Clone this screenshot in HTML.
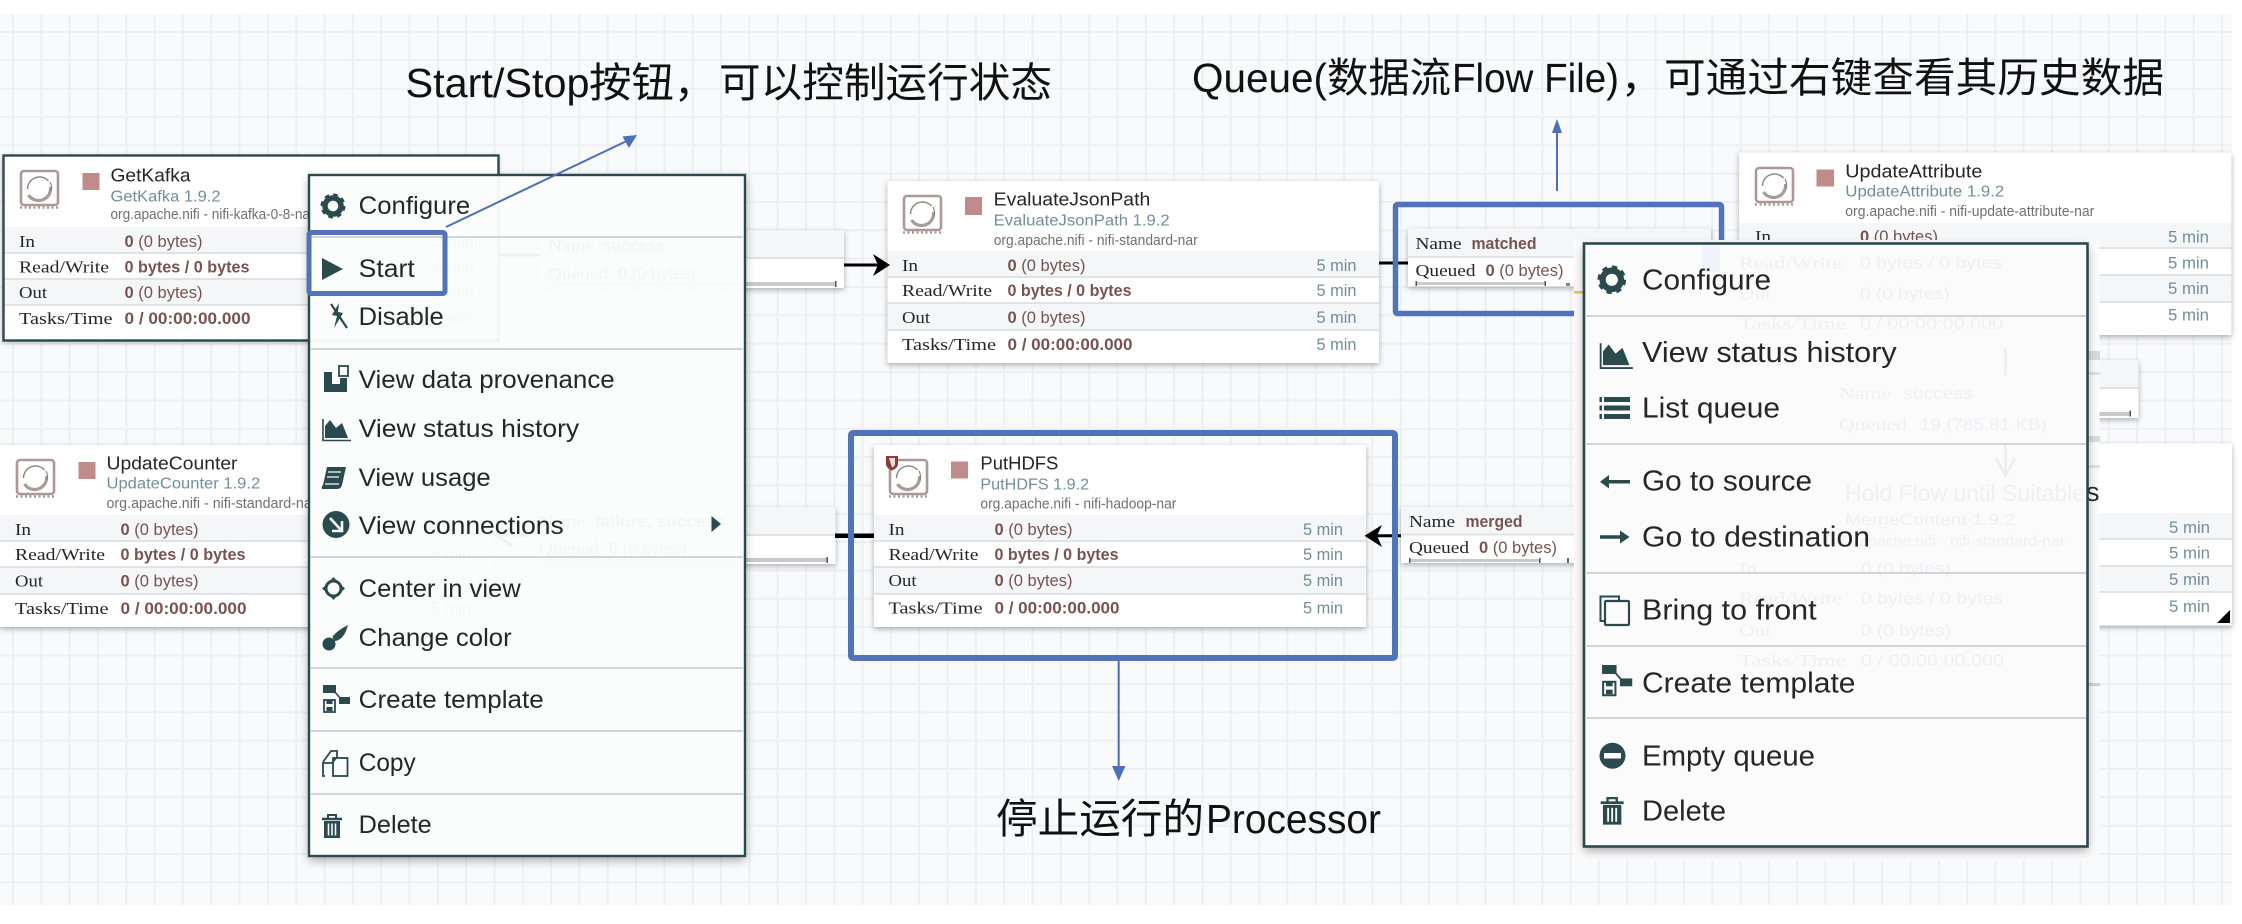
<!DOCTYPE html>
<html><head><meta charset="utf-8">
<style>
html,body{margin:0;padding:0;background:#fff;width:2242px;height:924px;overflow:hidden}
svg{display:block}
text{font-family:"Liberation Sans","Noto Sans CJK SC",sans-serif;white-space:pre}
.big{font-size:41px;fill:#111}
.n{font-size:18px;fill:#262626}
.s{font-size:15.5px;fill:#728e9b}
.o{font-size:14.5px;fill:#707070}
.l{font-family:"Liberation Serif",serif;font-size:17px;fill:#262626}
.v{font-size:16.5px;fill:#775351}
.b{font-weight:bold}
.t{font-size:16.5px;fill:#728e9b}
.m1{font-size:25px;fill:#262626}
.m2{font-size:29px;fill:#262626}
.f{fill:#eff0f2}
.card{fill:#fff;filter:drop-shadow(0 2px 3px rgba(0,0,0,.3))}
.alt{fill:#f4f6f7}
.sep{fill:#dfe3e6}
.stop{fill:#c08c8a}
.bar{fill:#c9c9c9}
.div{fill:#cfd6da}
.ic{fill:#2a4a4e}
</style></head>
<body>
<svg width="2242" height="924" viewBox="0 0 2242 924" xmlns="http://www.w3.org/2000/svg">
<defs>
<clipPath id="outm1"><path clip-rule="evenodd" d="M0 0H2242V924H0Z M309 175H745V856H309Z"/></clipPath>
<clipPath id="outm2"><path clip-rule="evenodd" d="M0 0H2242V924H0Z M1584 243.500H2087.500V846.500H1584Z"/></clipPath>
<pattern id="grid" patternUnits="userSpaceOnUse" x="12" y="2.5" width="28.32" height="28.35">
<rect width="28.32" height="28.35" fill="#f9fafc"/>
<rect width="2" height="28.35" fill="#edf0f2"/>
<rect width="28.32" height="2" fill="#edf0f2"/>
</pattern>
<g id="pi">
<rect x="2" y="2" width="37" height="34" rx="3" fill="#fff" stroke="#ad9897" stroke-width="2.6"/>
<path d="M1 38.5H40" stroke="#ad9897" stroke-width="2.5" stroke-dasharray="2 2.5" fill="none"/>
<path d="M8.5 20a12 12 0 0 1 21-8" stroke="#8a8180" stroke-width="1.4" fill="none"/>
<path d="M31.5 18a12 12 0 0 1-22 8" stroke="#a89b9a" stroke-width="3.2" fill="none"/>
<path d="M31 13a12 12 0 0 1 1 9" stroke="#8a8180" stroke-width="1.2" fill="none"/>
</g>
<g id="gear">
<circle cx="12" cy="12" r="8" fill="none" stroke="#2a4a4e" stroke-width="5.4"/>
<circle cx="12" cy="12" r="11" fill="none" stroke="#2a4a4e" stroke-width="3" stroke-dasharray="4.6 4"/>
</g>
<g id="status">
<path d="M3 21 L3 9 L8 3 L14 11 L20 6 L26 21Z" fill="#2a4a4e"/>
<path d="M1 2V23.5H29" stroke="#2a4a4e" stroke-width="1.6" fill="none"/>
</g>
<g id="templ">
<rect x="0" y="0" width="13" height="8" fill="#2a4a4e"/>
<rect x="16" y="12" width="11" height="7" fill="#2a4a4e"/>
<path d="M11 6 L18 14" stroke="#2a4a4e" stroke-width="1.6"/>
<rect x="1" y="15" width="11" height="12" fill="none" stroke="#2a4a4e" stroke-width="1.8"/>
<rect x="3.5" y="15" width="6" height="4" fill="#2a4a4e"/>
<rect x="3.5" y="22" width="6" height="4" fill="#2a4a4e"/>
</g>
<g id="trash">
<path d="M1 5H21" stroke="#2a4a4e" stroke-width="2.4"/>
<path d="M7 4.5V1H15V4.5" stroke="#2a4a4e" stroke-width="2" fill="none"/>
<path d="M3 7H19V24H3Z" fill="#2a4a4e"/>
<path d="M7.5 9.5V21.5M11 9.5V21.5M14.500 9.5V21.5" stroke="#fafbfc" stroke-width="1.6"/>
</g>
</defs>

<rect x="0" y="14" width="2232" height="891" fill="url(#grid)"/>

<!-- GetKafka -->
<rect class="card" x="3" y="155" width="495" height="185"/>
<rect class="alt" x="4" y="227" width="493" height="26"/>
<rect class="alt" x="4" y="279" width="493" height="26"/>
<rect class="sep" x="4" y="252" width="493" height="2"/><rect class="sep" x="4" y="278" width="493" height="2"/><rect class="sep" x="4" y="304" width="493" height="2"/>
<rect x="3.500" y="155.500" width="495" height="185" fill="none" stroke="#2a4a4e" stroke-width="2.4"/>
<use href="#pi" x="19" y="169"/>
<rect class="stop" x="82.500" y="173" width="17" height="17"/>
<text class="n" x="110.500" y="181.500" textLength="80" lengthAdjust="spacingAndGlyphs">GetKafka</text>
<text class="s" x="110.500" y="201.500" textLength="110" lengthAdjust="spacingAndGlyphs">GetKafka 1.9.2</text>
<text class="o" x="110.500" y="219" textLength="204" lengthAdjust="spacingAndGlyphs">org.apache.nifi - nifi-kafka-0-8-nar</text>
<text class="l" x="19" y="247" textLength="16" lengthAdjust="spacingAndGlyphs">In</text>
<text class="v" x="124.500" y="247"><tspan class="b">0</tspan> (0 bytes)</text>
<text class="l" x="19" y="272.500" textLength="90" lengthAdjust="spacingAndGlyphs">Read/Write</text>
<text class="v b" x="124.500" y="272.500" textLength="125" lengthAdjust="spacingAndGlyphs">0 bytes / 0 bytes</text>
<text class="l" x="19" y="298" textLength="28" lengthAdjust="spacingAndGlyphs">Out</text>
<text class="v" x="124.500" y="298"><tspan class="b">0</tspan> (0 bytes)</text>
<text class="l" x="19" y="324" textLength="93.500" lengthAdjust="spacingAndGlyphs">Tasks/Time</text>
<text class="v b" x="124.500" y="324" textLength="126" lengthAdjust="spacingAndGlyphs">0 / 00:00:00.000</text>
<text class="t" x="434" y="247" textLength="40" lengthAdjust="spacingAndGlyphs">5 min</text>
<text class="t" x="434" y="272.500" textLength="40" lengthAdjust="spacingAndGlyphs">5 min</text>
<text class="t" x="434" y="298" textLength="40" lengthAdjust="spacingAndGlyphs">5 min</text>
<text class="t" x="434" y="324" textLength="40" lengthAdjust="spacingAndGlyphs">5 min</text>

<!-- UpdateCounter -->
<rect class="card" x="0" y="445" width="494" height="182"/>
<rect class="alt" x="0" y="515" width="494" height="26"/>
<rect class="alt" x="0" y="567" width="494" height="27"/>
<rect class="sep" x="0" y="540" width="494" height="2"/><rect class="sep" x="0" y="566" width="494" height="2"/><rect class="sep" x="0" y="593" width="494" height="2"/>
<use href="#pi" x="15" y="458"/>
<rect class="stop" x="78.500" y="462" width="17" height="17"/>
<text class="n" x="106.500" y="469.500" textLength="131" lengthAdjust="spacingAndGlyphs">UpdateCounter</text>
<text class="s" x="106.500" y="488.500" textLength="153.700" lengthAdjust="spacingAndGlyphs">UpdateCounter 1.9.2</text>
<text class="o" x="106.500" y="508" textLength="210" lengthAdjust="spacingAndGlyphs">org.apache.nifi - nifi-standard-nar</text>
<text class="l" x="15" y="535" textLength="16" lengthAdjust="spacingAndGlyphs">In</text>
<text class="v" x="120.500" y="535"><tspan class="b">0</tspan> (0 bytes)</text>
<text class="l" x="15" y="560" textLength="90" lengthAdjust="spacingAndGlyphs">Read/Write</text>
<text class="v b" x="120.500" y="560" textLength="125" lengthAdjust="spacingAndGlyphs">0 bytes / 0 bytes</text>
<text class="l" x="15" y="586.500" textLength="28" lengthAdjust="spacingAndGlyphs">Out</text>
<text class="v" x="120.500" y="586.500"><tspan class="b">0</tspan> (0 bytes)</text>
<text class="l" x="15" y="614" textLength="93.500" lengthAdjust="spacingAndGlyphs">Tasks/Time</text>
<text class="v b" x="120.500" y="614" textLength="126" lengthAdjust="spacingAndGlyphs">0 / 00:00:00.000</text>
<text class="t" x="431" y="535" textLength="40" lengthAdjust="spacingAndGlyphs">5 min</text>
<text class="t" x="431" y="560" textLength="40" lengthAdjust="spacingAndGlyphs">5 min</text>
<text class="t" x="431" y="586.500" textLength="40" lengthAdjust="spacingAndGlyphs">5 min</text>
<text class="t" x="431" y="614" textLength="40" lengthAdjust="spacingAndGlyphs">5 min</text>

<!-- faint connectors under menu 1 -->
<path d="M498 255H540" stroke="#000" stroke-width="3"/>
<path d="M494 535H528" stroke="#000" stroke-width="3"/>
<path d="M496 535L512 527M496 535L512 546" stroke="#000" stroke-width="3"/>

<!-- queue 1 (left) -->
<rect class="card" x="540" y="230" width="304" height="58"/>
<rect class="alt" x="540" y="230" width="304" height="28"/>
<rect class="sep" x="540" y="257" width="304" height="2"/>
<text class="l" x="548" y="251" textLength="46" lengthAdjust="spacingAndGlyphs">Name</text>
<text class="v b" x="603" y="251" textLength="62" lengthAdjust="spacingAndGlyphs">success</text>
<text class="l" x="548" y="279" textLength="60" lengthAdjust="spacingAndGlyphs">Queued</text>
<text class="v" x="618" y="279"><tspan class="b">0</tspan> (0 bytes)</text>
<rect class="bar" x="548" y="282" width="288" height="4"/>
<rect x="835" y="281" width="1.500" height="6" fill="#555"/>

<!-- queue 4 (left, failure) -->
<rect class="card" x="530" y="507" width="305.500" height="57"/>
<rect class="alt" x="530" y="507" width="305.500" height="28"/>
<rect class="sep" x="530" y="534" width="305.500" height="2"/>
<text class="l" x="539" y="527" textLength="46" lengthAdjust="spacingAndGlyphs">Name</text>
<text class="v b" x="595" y="527" textLength="130" lengthAdjust="spacingAndGlyphs">failure, success</text>
<text class="l" x="539" y="554" textLength="60" lengthAdjust="spacingAndGlyphs">Queued</text>
<text class="v" x="609" y="554"><tspan class="b">0</tspan> (0 bytes)</text>
<rect class="bar" x="539" y="558" width="288" height="4"/>
<rect x="826.500" y="557" width="1.500" height="6" fill="#555"/>

<!-- EvaluateJsonPath -->
<rect class="card" x="887.500" y="181" width="491.500" height="182"/>
<rect class="alt" x="887.500" y="251" width="491.500" height="26"/>
<rect class="alt" x="887.500" y="303" width="491.500" height="27"/>
<rect class="sep" x="887.500" y="276" width="491.500" height="2"/><rect class="sep" x="887.500" y="302" width="491.500" height="2"/><rect class="sep" x="887.500" y="329" width="491.500" height="2"/>
<use href="#pi" x="902" y="194"/>
<rect class="stop" x="965" y="197" width="17" height="18"/>
<text class="n" x="993.700" y="205.500" textLength="156.600" lengthAdjust="spacingAndGlyphs">EvaluateJsonPath</text>
<text class="s" x="993.700" y="225.500" textLength="176" lengthAdjust="spacingAndGlyphs">EvaluateJsonPath 1.9.2</text>
<text class="o" x="993.700" y="245" textLength="204" lengthAdjust="spacingAndGlyphs">org.apache.nifi - nifi-standard-nar</text>
<text class="l" x="902" y="271" textLength="16" lengthAdjust="spacingAndGlyphs">In</text>
<text class="v" x="1007.500" y="271"><tspan class="b">0</tspan> (0 bytes)</text>
<text class="l" x="902" y="296" textLength="90" lengthAdjust="spacingAndGlyphs">Read/Write</text>
<text class="v b" x="1007.500" y="296" textLength="124" lengthAdjust="spacingAndGlyphs">0 bytes / 0 bytes</text>
<text class="l" x="902" y="323" textLength="28" lengthAdjust="spacingAndGlyphs">Out</text>
<text class="v" x="1007.500" y="323"><tspan class="b">0</tspan> (0 bytes)</text>
<text class="l" x="902" y="350" textLength="94" lengthAdjust="spacingAndGlyphs">Tasks/Time</text>
<text class="v b" x="1007.500" y="350" textLength="125" lengthAdjust="spacingAndGlyphs">0 / 00:00:00.000</text>
<text class="t" x="1316.500" y="271" textLength="40" lengthAdjust="spacingAndGlyphs">5 min</text>
<text class="t" x="1316.500" y="296" textLength="40" lengthAdjust="spacingAndGlyphs">5 min</text>
<text class="t" x="1316.500" y="323" textLength="40" lengthAdjust="spacingAndGlyphs">5 min</text>
<text class="t" x="1316.500" y="350" textLength="40" lengthAdjust="spacingAndGlyphs">5 min</text>

<!-- PutHDFS -->
<rect class="card" x="874" y="445" width="492" height="182"/>
<rect class="alt" x="874" y="515" width="492" height="26"/>
<rect class="alt" x="874" y="567" width="492" height="27"/>
<rect class="sep" x="874" y="540" width="492" height="2"/><rect class="sep" x="874" y="566" width="492" height="2"/><rect class="sep" x="874" y="593" width="492" height="2"/>
<use href="#pi" x="888" y="458"/>
<path d="M886 456H898V464Q898 468 892 470.500Q886 468 886 464Z" fill="#8c3b3b"/>
<path d="M889 458H895V464Q895 466 892 467.500Z" fill="#e8dede"/>
<rect class="stop" x="951" y="461.500" width="17" height="17"/>
<text class="n" x="980.400" y="469.500" textLength="78" lengthAdjust="spacingAndGlyphs">PutHDFS</text>
<text class="s" x="980.400" y="489.500" textLength="108.700" lengthAdjust="spacingAndGlyphs">PutHDFS 1.9.2</text>
<text class="o" x="980.400" y="508.500" textLength="196" lengthAdjust="spacingAndGlyphs">org.apache.nifi - nifi-hadoop-nar</text>
<text class="l" x="888.500" y="535" textLength="16" lengthAdjust="spacingAndGlyphs">In</text>
<text class="v" x="994.500" y="535"><tspan class="b">0</tspan> (0 bytes)</text>
<text class="l" x="888.500" y="560" textLength="90" lengthAdjust="spacingAndGlyphs">Read/Write</text>
<text class="v b" x="994.500" y="560" textLength="124" lengthAdjust="spacingAndGlyphs">0 bytes / 0 bytes</text>
<text class="l" x="888.500" y="586" textLength="28" lengthAdjust="spacingAndGlyphs">Out</text>
<text class="v" x="994.500" y="586"><tspan class="b">0</tspan> (0 bytes)</text>
<text class="l" x="888.500" y="613.500" textLength="94" lengthAdjust="spacingAndGlyphs">Tasks/Time</text>
<text class="v b" x="994.500" y="613.500" textLength="125" lengthAdjust="spacingAndGlyphs">0 / 00:00:00.000</text>
<text class="t" x="1303" y="535" textLength="40" lengthAdjust="spacingAndGlyphs">5 min</text>
<text class="t" x="1303" y="560" textLength="40" lengthAdjust="spacingAndGlyphs">5 min</text>
<text class="t" x="1303" y="586" textLength="40" lengthAdjust="spacingAndGlyphs">5 min</text>
<text class="t" x="1303" y="613.500" textLength="40" lengthAdjust="spacingAndGlyphs">5 min</text>

<!-- UpdateAttribute -->
<rect class="card" x="1739" y="152.500" width="492.500" height="182.500"/>
<rect class="alt" x="1739" y="223" width="492.500" height="25"/>
<rect class="alt" x="1739" y="275" width="492.500" height="27"/>
<rect class="sep" x="1739" y="247" width="492.500" height="2"/><rect class="sep" x="1739" y="274" width="492.500" height="2"/><rect class="sep" x="1739" y="301" width="492.500" height="2"/>
<use href="#pi" x="1754" y="166"/>
<rect class="stop" x="1816.500" y="169.500" width="17.500" height="17"/>
<text class="n" x="1845.300" y="177.500" textLength="137" lengthAdjust="spacingAndGlyphs">UpdateAttribute</text>
<text class="s" x="1845.300" y="196.500" textLength="159" lengthAdjust="spacingAndGlyphs">UpdateAttribute 1.9.2</text>
<text class="o" x="1845.300" y="216" textLength="249" lengthAdjust="spacingAndGlyphs">org.apache.nifi - nifi-update-attribute-nar</text>
<text class="l" x="1755" y="242" textLength="16" lengthAdjust="spacingAndGlyphs">In</text>
<text class="v" x="1860" y="242"><tspan class="b">0</tspan> (0 bytes)</text>
<text class="t" x="2168" y="242.500" textLength="41" lengthAdjust="spacingAndGlyphs">5 min</text>
<text class="t" x="2168" y="268.500" textLength="41" lengthAdjust="spacingAndGlyphs">5 min</text>
<text class="t" x="2168" y="294" textLength="41" lengthAdjust="spacingAndGlyphs">5 min</text>
<text class="t" x="2168" y="320.500" textLength="41" lengthAdjust="spacingAndGlyphs">5 min</text>

<!-- queue right of paste (success) -->
<rect class="card" x="1830" y="360" width="308.500" height="58"/>
<rect class="alt" x="1830" y="360" width="308.500" height="28"/>
<rect class="sep" x="1830" y="387" width="308.500" height="2"/>
<rect class="bar" x="1840" y="412" width="290" height="4"/>
<rect x="2129.500" y="410.500" width="1.500" height="6" fill="#555"/>

<!-- MergeContent card -->
<rect class="card" x="1740" y="443.500" width="492" height="182"/>
<rect class="alt" x="1740" y="513" width="492" height="26"/>
<rect class="alt" x="1740" y="566" width="492" height="26"/>
<rect class="sep" x="1740" y="538" width="492" height="2"/><rect class="sep" x="1740" y="565" width="492" height="2"/><rect class="sep" x="1740" y="591" width="492" height="2"/>
<text class="t" x="2169" y="533" textLength="41" lengthAdjust="spacingAndGlyphs">5 min</text>
<text class="t" x="2169" y="558.500" textLength="41" lengthAdjust="spacingAndGlyphs">5 min</text>
<text class="t" x="2169" y="585" textLength="41" lengthAdjust="spacingAndGlyphs">5 min</text>
<text class="t" x="2169" y="612" textLength="41" lengthAdjust="spacingAndGlyphs">5 min</text>
<path d="M2230 610V623H2217Z" fill="#000"/>

<!-- queue matched -->
<rect class="card" x="1408" y="228.500" width="303" height="58"/>
<rect class="alt" x="1408" y="228.500" width="303" height="28"/>
<rect class="sep" x="1408" y="256" width="303" height="2"/>
<text class="l" x="1415.500" y="249" textLength="46" lengthAdjust="spacingAndGlyphs">Name</text>
<text class="v b" x="1471.500" y="249" textLength="65" lengthAdjust="spacingAndGlyphs">matched</text>
<text class="l" x="1415.500" y="276" textLength="60" lengthAdjust="spacingAndGlyphs">Queued</text>
<text class="v" x="1485.500" y="276"><tspan class="b">0</tspan> (0 bytes)</text>
<rect class="bar" x="1416" y="282" width="129" height="3"/>
<rect x="1415.500" y="281" width="1.500" height="5" fill="#555"/><rect x="1544.500" y="281" width="1.500" height="5" fill="#555"/>
<rect x="1566" y="283" width="4" height="3" fill="#888"/>

<!-- queue merged -->
<rect class="card" x="1401" y="507" width="300" height="56"/>
<rect class="alt" x="1401" y="507" width="300" height="27"/>
<rect class="sep" x="1401" y="533.500" width="300" height="2"/>
<text class="l" x="1409" y="527" textLength="46" lengthAdjust="spacingAndGlyphs">Name</text>
<text class="v b" x="1465.500" y="527" textLength="57" lengthAdjust="spacingAndGlyphs">merged</text>
<text class="l" x="1409" y="553" textLength="60" lengthAdjust="spacingAndGlyphs">Queued</text>
<text class="v" x="1479" y="553"><tspan class="b">0</tspan> (0 bytes)</text>
<rect class="bar" x="1409" y="559" width="130" height="3"/>
<rect x="1409" y="558" width="1.500" height="5" fill="#555"/><rect x="1539" y="558" width="1.500" height="5" fill="#555"/>
<rect x="1567" y="558" width="2" height="5" fill="#666"/>

<!-- black connectors -->
<path d="M844 265H884" stroke="#000" stroke-width="3"/>
<path d="M873 254L890 265L873 276L878 265Z" fill="#000"/>
<path d="M1379 263H1408" stroke="#000" stroke-width="3"/>
<path d="M835 535.700H874" stroke="#000" stroke-width="4.500"/>
<path d="M1401 535.700H1370" stroke="#000" stroke-width="3"/>
<path d="M1382 525L1364.500 535.700L1382 547L1377 535.700Z" fill="#000"/>

<!-- blue annotation boxes under paste -->
<rect x="851" y="433" width="544" height="225" rx="2" fill="none" stroke="#5273b9" stroke-width="6"/>
<rect x="1395.500" y="204.500" width="326" height="109" rx="2" fill="none" stroke="#5273b9" stroke-width="5.500"/>

<!-- paste region of menu 2 -->
<rect x="1574" y="240" width="525.500" height="620" fill="#fbfbfc"/>
<rect x="1574" y="291" width="9" height="2.500" fill="#e8c45a"/>
<rect x="2088" y="351" width="12" height="9" fill="#d8dcdf"/>
<rect x="2088" y="372" width="12" height="3" fill="#dfe3e6"/>
<rect x="2088" y="436" width="12" height="6" fill="#d8dcdf"/>
<rect x="2088" y="465" width="12" height="3" fill="#dfe3e6"/>
<rect x="2088" y="683" width="12" height="3" fill="#cfd3d6"/>
<text x="2086" y="501" font-size="27" fill="#2c2c2c">s</text>

<!-- faint content within paste -->
<rect x="1702" y="244" width="18" height="28" fill="#f1f3fb"/>
<path d="M2005.500 348V375M2005.500 445V476M1996 458L2005.500 476L2015 458" stroke="#eceef0" stroke-width="2.500" fill="none"/>
<text class="l f" x="1739" y="268.500" textLength="103" lengthAdjust="spacingAndGlyphs">Read/Write</text>
<text class="v f" x="1860" y="268.500" textLength="142" lengthAdjust="spacingAndGlyphs">0 bytes / 0 bytes</text>
<text class="l f" x="1739" y="299" textLength="32" lengthAdjust="spacingAndGlyphs">Out</text>
<text class="v f" x="1860" y="299" textLength="90" lengthAdjust="spacingAndGlyphs">0 (0 bytes)</text>
<text class="l f" x="1739" y="329" textLength="107" lengthAdjust="spacingAndGlyphs">Tasks/Time</text>
<text class="v f" x="1860" y="329" textLength="143" lengthAdjust="spacingAndGlyphs">0 / 00:00:00.000</text>
<text class="l f" x="1839" y="399" textLength="52" lengthAdjust="spacingAndGlyphs">Name</text>
<text class="v f" x="1903" y="399" textLength="70" lengthAdjust="spacingAndGlyphs">success</text>
<text class="l f" x="1839" y="430" textLength="68" lengthAdjust="spacingAndGlyphs">Queued</text>
<text class="v f" x="1920" y="430" textLength="127" lengthAdjust="spacingAndGlyphs">19 (785.81 KB)</text>
<text class="n f" x="1845" y="501" textLength="240" lengthAdjust="spacingAndGlyphs" style="font-size:23px">Hold Flow until Suitable</text>
<text class="s f" x="1845" y="525" textLength="170" lengthAdjust="spacingAndGlyphs">MergeContent 1.9.2</text>
<text class="o f" x="1855" y="546" textLength="210" lengthAdjust="spacingAndGlyphs">.apache.nifi - nifi-standard-nar</text>
<text class="l f" x="1739" y="574" textLength="18" lengthAdjust="spacingAndGlyphs">In</text>
<text class="v f" x="1861" y="574" textLength="90" lengthAdjust="spacingAndGlyphs">0 (0 bytes)</text>
<text class="l f" x="1739" y="604" textLength="103" lengthAdjust="spacingAndGlyphs">Read/Write</text>
<text class="v f" x="1861" y="604" textLength="142" lengthAdjust="spacingAndGlyphs">0 bytes / 0 bytes</text>
<text class="l f" x="1739" y="636" textLength="32" lengthAdjust="spacingAndGlyphs">Out</text>
<text class="v f" x="1861" y="636" textLength="90" lengthAdjust="spacingAndGlyphs">0 (0 bytes)</text>
<text class="l f" x="1739" y="666" textLength="107" lengthAdjust="spacingAndGlyphs">Tasks/Time</text>
<text class="v f" x="1861" y="666" textLength="143" lengthAdjust="spacingAndGlyphs">0 / 00:00:00.000</text>

<!-- MENU 1 -->
<g clip-path="url(#outm1)"><rect x="309" y="175" width="436" height="681" fill="#000" style="filter:drop-shadow(0 4px 5px rgba(0,0,0,.35))"/></g>
<rect x="309" y="175" width="436" height="681" fill="rgba(251,252,252,.96)" stroke="#2a4a4e" stroke-width="2.400"/>
<rect class="div" x="310" y="236" width="434" height="2"/>
<rect class="div" x="310" y="348" width="434" height="2"/>
<rect class="div" x="310" y="556" width="434" height="2"/>
<rect class="div" x="310" y="667" width="434" height="2"/>
<rect class="div" x="310" y="730" width="434" height="2"/>
<rect class="div" x="310" y="793" width="434" height="2"/>
<text class="m1" x="358.700" y="214" textLength="111.500" lengthAdjust="spacingAndGlyphs">Configure</text>
<text class="m1" x="358.700" y="277" textLength="56" lengthAdjust="spacingAndGlyphs">Start</text>
<text class="m1" x="358.700" y="325" textLength="85" lengthAdjust="spacingAndGlyphs">Disable</text>
<text class="m1" x="358.700" y="388" textLength="256" lengthAdjust="spacingAndGlyphs">View data provenance</text>
<text class="m1" x="358.700" y="437" textLength="220.500" lengthAdjust="spacingAndGlyphs">View status history</text>
<text class="m1" x="358.700" y="486" textLength="132" lengthAdjust="spacingAndGlyphs">View usage</text>
<text class="m1" x="358.700" y="534" textLength="205" lengthAdjust="spacingAndGlyphs">View connections</text>
<text class="m1" x="358.700" y="597" textLength="162" lengthAdjust="spacingAndGlyphs">Center in view</text>
<text class="m1" x="358.700" y="646" textLength="153" lengthAdjust="spacingAndGlyphs">Change color</text>
<text class="m1" x="358.700" y="708" textLength="185" lengthAdjust="spacingAndGlyphs">Create template</text>
<text class="m1" x="358.700" y="771" textLength="57" lengthAdjust="spacingAndGlyphs">Copy</text>
<text class="m1" x="358.700" y="833" textLength="73" lengthAdjust="spacingAndGlyphs">Delete</text>
<path d="M711.500 516L721 524L711.500 532Z" class="ic"/>
<!-- icons menu 1 -->
<use href="#gear" x="321" y="194"/>
<path class="ic" d="M322 258L343 269L322 280Z"/>
<path d="M331 304L347 328" stroke="#2a4a4e" stroke-width="2.200"/>
<path class="ic" d="M339 303L332 315L337 316L334 328L343 313L338 312Z"/>
<path class="ic" d="M324 372H332V384H340V378H347V392H324Z"/>
<rect x="339" y="366" width="9" height="10" fill="none" stroke="#2a4a4e" stroke-width="1.800"/>
<g transform="translate(322 417)"><use href="#status"/></g>
<path class="ic" d="M327 467H346L342 485Q341 489 337 489H322Q321 487 323 485Z"/>
<path d="M328 472H341M327 477H339M325 484H339" stroke="#fafbfc" stroke-width="1.200"/>
<circle class="ic" cx="336" cy="524.500" r="13.500"/>
<path d="M330 518L341 530M342 521V531H332" stroke="#fafbfc" stroke-width="2.600" fill="none"/>
<circle cx="333.500" cy="588.500" r="7.500" fill="none" stroke="#2a4a4e" stroke-width="3"/>
<path class="ic" d="M333.500 577L338 582H329ZM333.500 600L338 595H329ZM322 588.500L327 584V593ZM345 588.500L340 584V593Z"/>
<path class="ic" d="M348 625Q344 640 335 641Q332 638 333 636Q338 630 348 625Z"/>
<circle class="ic" cx="329" cy="644" r="6.500"/>
<g transform="translate(323 685)"><use href="#templ"/></g>
<path d="M323 762L331 751H337V757L332 763H323V776H325" fill="none" stroke="#2a4a4e" stroke-width="1.800"/>
<rect x="333" y="758" width="14.500" height="18" fill="none" stroke="#2a4a4e" stroke-width="1.800"/>
<g transform="translate(321 814)"><use href="#trash"/></g>

<!-- MENU 2 -->
<g clip-path="url(#outm2)"><rect x="1584" y="243.500" width="503.500" height="603" fill="#000" style="filter:drop-shadow(0 4px 5px rgba(0,0,0,.35))"/></g>
<rect x="1584" y="243.500" width="503.500" height="603" fill="none" stroke="#2a4a4e" stroke-width="2.600"/>
<rect class="div" x="1585" y="315" width="501" height="2"/>
<rect class="div" x="1585" y="443" width="501" height="2"/>
<rect class="div" x="1585" y="572" width="501" height="2"/>
<rect class="div" x="1585" y="645" width="501" height="2"/>
<rect class="div" x="1585" y="717" width="501" height="2"/>
<text class="m2" x="1642" y="289.500" textLength="129" lengthAdjust="spacingAndGlyphs">Configure</text>
<text class="m2" x="1642" y="362" textLength="254.700" lengthAdjust="spacingAndGlyphs">View status history</text>
<text class="m2" x="1642" y="417.500" textLength="138" lengthAdjust="spacingAndGlyphs">List queue</text>
<text class="m2" x="1642" y="490.500" textLength="170" lengthAdjust="spacingAndGlyphs">Go to source</text>
<text class="m2" x="1642" y="546.500" textLength="228" lengthAdjust="spacingAndGlyphs">Go to destination</text>
<text class="m2" x="1642" y="619.500" textLength="174.600" lengthAdjust="spacingAndGlyphs">Bring to front</text>
<text class="m2" x="1642" y="692.500" textLength="213.500" lengthAdjust="spacingAndGlyphs">Create template</text>
<text class="m2" x="1642" y="765.500" textLength="173" lengthAdjust="spacingAndGlyphs">Empty queue</text>
<text class="m2" x="1642" y="820.500" textLength="84" lengthAdjust="spacingAndGlyphs">Delete</text>
<!-- icons menu 2 -->
<g transform="translate(1598 266) scale(1.150)"><use href="#gear"/></g>
<g transform="translate(1599.500 341) scale(1.150)"><use href="#status"/></g>
<path d="M1604 399.500H1630M1604 408H1630M1604 416.500H1630" stroke="#2a4a4e" stroke-width="5"/>
<path d="M1599.500 399.500H1602M1599.500 408H1602M1599.500 416.500H1602" stroke="#2a4a4e" stroke-width="5"/>
<path d="M1606 481.700H1630" stroke="#2a4a4e" stroke-width="3.500"/><path class="ic" d="M1600 481.700L1609 475V488.500Z"/>
<path d="M1600 537H1623" stroke="#2a4a4e" stroke-width="3.500"/><path class="ic" d="M1629.500 537L1620 530.500V543.500Z"/>
<path d="M1604 621H1600.500V596.500H1619V600" fill="none" stroke="#2a4a4e" stroke-width="2"/>
<rect x="1605" y="601" width="24" height="24" rx="1" fill="none" stroke="#2a4a4e" stroke-width="2.200"/>
<g transform="translate(1602 665) scale(1.120)"><use href="#templ"/></g>
<circle class="ic" cx="1612.500" cy="755.700" r="13"/><rect x="1604" y="753" width="17" height="5.500" fill="#fafbfc"/>
<g transform="translate(1599.500 797) scale(1.150)"><use href="#trash"/></g>

<!-- Start highlight and arrow -->
<rect x="309" y="232.500" width="136" height="61" rx="2" fill="none" stroke="#5273b9" stroke-width="5"/>
<path d="M446 227L632 138.500" stroke="#4d6fb5" stroke-width="2"/>
<path d="M637 135L622.500 136.500L629 148Z" fill="#4d6fb5"/>

<!-- vertical arrows -->
<path d="M1557 191V130" stroke="#4d6fb5" stroke-width="2"/>
<path d="M1557 119L1552 133H1562Z" fill="#4d6fb5"/>
<path d="M1118.700 661V770" stroke="#4d6fb5" stroke-width="2"/>
<path d="M1118.700 781L1112 766H1125.500Z" fill="#4d6fb5"/>

<!-- annotation titles -->
<text class="big" x="405.500" y="97" textLength="184" lengthAdjust="spacingAndGlyphs">Start/Stop</text>
<text class="big" x="589" y="97" textLength="85" lengthAdjust="spacingAndGlyphs">按钮</text>
<text class="big" x="674" y="97">，</text>
<text class="big" x="719" y="97" textLength="333" lengthAdjust="spacingAndGlyphs">可以控制运行状态</text>
<text class="big" x="1192" y="92" textLength="135" lengthAdjust="spacingAndGlyphs">Queue(</text>
<text class="big" x="1327" y="92" textLength="124" lengthAdjust="spacingAndGlyphs">数据流</text>
<text class="big" x="1452" y="92" textLength="167" lengthAdjust="spacingAndGlyphs">Flow File)</text>
<text class="big" x="1621" y="92">，</text>
<text class="big" x="1664" y="92" textLength="500" lengthAdjust="spacingAndGlyphs">可通过右键查看其历史数据</text>
<text class="big" x="996" y="833" textLength="208" lengthAdjust="spacingAndGlyphs">停止运行的</text>
<text class="big" x="1206" y="833" textLength="175" lengthAdjust="spacingAndGlyphs">Processor</text>
</svg>
</body></html>
